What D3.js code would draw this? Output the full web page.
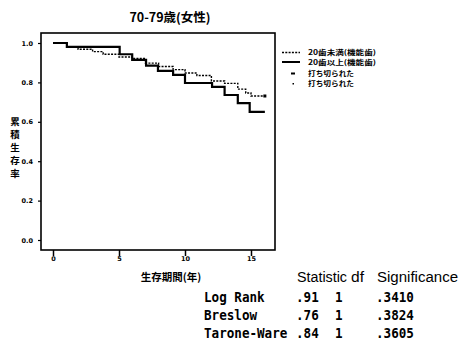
<!DOCTYPE html>
<html><head><meta charset="utf-8">
<script src="https://cdn.jsdelivr.net/npm/d3@7"></script>
<style>body{margin:0;background:#fff}</style>
</head><body><svg id="c" width="465" height="342"></svg>
<script>
const title = "70-79歳(女性)";
const yTitle = "累積生存率";
const xTitle = "生存期間(年)";
const xTicks = [0, 5, 10, 15];
const yTicks = [0.0, 0.2, 0.4, 0.6, 0.8, 1.0];
const seriesNames = ["20歯未満(機能歯)", "20歯以上(機能歯)", "打ち切られた", "打ち切られた"];
// group 1 (dotted)
const dotTimes = [0, 1.05, 1.9, 3.0, 3.8, 5.0, 6.0, 7.0, 8.0, 9.1, 10.0, 10.9, 12.0, 13.0, 14.0, 14.6, 15.0];
const dotSurv  = [1.0, 0.980, 0.968, 0.956, 0.943, 0.929, 0.921, 0.898, 0.881, 0.865, 0.848, 0.835, 0.807, 0.795, 0.766, 0.746, 0.731];
const dotEnd = 16.05;
const dotCensor = [16.05];
// group 2 (solid)
const solTimes = [0, 1.05, 5.05, 6.0, 7.05, 7.95, 9.1, 10.0, 12.05, 13.0, 14.0, 14.9];
const solSurv  = [1.0, 0.980, 0.943, 0.914, 0.885, 0.859, 0.838, 0.797, 0.777, 0.736, 0.695, 0.650];
const solEnd = 16.05;
// test table
const statHeader = ["Statistic", "df", "Significance"];
const testNames = ["Log Rank", "Breslow", "Tarone-Ware"];
const testStats = [".91", ".76", ".84"];
const testDf = ["1", "1", "1"];
const testSig = [".3410", ".3824", ".3605"];

const svg = d3.select("#c");
const x = d3.scaleLinear().domain([0, 15]).range([53, 251]);
const y = d3.scaleLinear().domain([0, 1]).range([240, 43]);
const frame = {l: 41, r: 275, t: 33, b: 250};
const cjk = "'Noto Sans CJK JP', sans-serif";

svg.append("rect").attr("x", frame.l).attr("y", frame.t)
  .attr("width", frame.r - frame.l).attr("height", frame.b - frame.t)
  .attr("fill", "none").attr("stroke", "#000").attr("stroke-width", 1.6);

// axes
const yAx = svg.append("g").attr("transform", `translate(${frame.l},0)`)
  .call(d3.axisLeft(y).tickValues(yTicks).tickFormat(d3.format(".1f")).tickSize(3));
yAx.select(".domain").remove();
yAx.selectAll("text").attr("font-size", 6.5).attr("font-weight", "bold")
  .attr("font-family", "'DejaVu Sans', sans-serif").attr("dx", -2);
yAx.selectAll("line").attr("stroke-width", 1.2);
const xAx = svg.append("g").attr("transform", `translate(0,${frame.b})`)
  .call(d3.axisBottom(x).tickValues(xTicks).tickSize(6));
xAx.select(".domain").remove();
xAx.selectAll("text").attr("font-size", 6.5).attr("font-weight", "bold")
  .attr("font-family", "'DejaVu Sans', sans-serif").attr("dy", 2);
xAx.selectAll("line").attr("stroke-width", 1.5);

function stepPts(times, surv, end) {
  const pts = [];
  times.forEach((t, i) => {
    if (i > 0) pts.push([t, surv[i - 1]]);
    pts.push([t, surv[i]]);
  });
  pts.push([end, surv[surv.length - 1]]);
  return pts;
}
const line = d3.line().x(d => x(d[0])).y(d => y(d[1]));
svg.append("path").attr("d", line(stepPts(solTimes, solSurv, solEnd)))
  .attr("fill", "none").attr("stroke", "#000").attr("stroke-width", 2.2);
svg.append("path").attr("d", line(stepPts(dotTimes, dotSurv, dotEnd)))
  .attr("fill", "none").attr("stroke", "#000").attr("stroke-width", 1.4)
  .attr("stroke-dasharray", "2,1.3");
dotCensor.forEach(t => {
  svg.append("rect").attr("x", x(t) - 1.5).attr("y", y(dotSurv[dotSurv.length - 1]) - 1.5)
    .attr("width", 3).attr("height", 3).attr("fill", "#000");
});

// title
svg.append("text").attr("x", 170).attr("y", 22).attr("text-anchor", "middle")
  .attr("font-family", cjk).attr("font-weight", "bold").attr("font-size", 12.5).text(title);
// y title vertical
const yt = svg.append("g").attr("font-family", cjk).attr("font-weight", "bold").attr("font-size", 9.5)
  .attr("text-anchor", "middle");
Array.from(yTitle).forEach((ch, i) => {
  yt.append("text").attr("x", 15).attr("y", 125 + i * 13).text(ch);
});
svg.append("text").attr("x", 171).attr("y", 281).attr("text-anchor", "middle")
  .attr("font-family", cjk).attr("font-weight", "bold").attr("font-size", 10.5).text(xTitle);

// legend
const lg = svg.append("g");
lg.append("line").attr("x1", 282).attr("x2", 300).attr("y1", 52.5).attr("y2", 52.5)
  .attr("stroke", "#000").attr("stroke-width", 1.4).attr("stroke-dasharray", "2,1.3");
lg.append("line").attr("x1", 282).attr("x2", 300).attr("y1", 62).attr("y2", 62)
  .attr("stroke", "#000").attr("stroke-width", 2);
lg.append("rect").attr("x", 291).attr("y", 72.5).attr("width", 4).attr("height", 2).attr("fill", "#000");
lg.append("rect").attr("x", 292.5).attr("y", 83).attr("width", 1.5).attr("height", 1.5).attr("fill", "#000");
const legY = [55, 65, 76, 86];
seriesNames.forEach((n, i) => {
  lg.append("text").attr("x", 308).attr("y", legY[i]).attr("font-family", cjk)
    .attr("font-weight", "bold").attr("font-size", 6.9).attr("textLength", i < 2 ? 68 : 46)
    .attr("lengthAdjust", "spacingAndGlyphs").text(n);
});

// stats table
const tf = "'Liberation Sans', sans-serif";
const mono = "'DejaVu Sans Mono', monospace";
const hdrX = [297, 351, 377];
const hdrW = [50, 13, 81];
statHeader.forEach((h, i) => {
  svg.append("text").attr("x", hdrX[i]).attr("y", 282).attr("font-family", tf)
    .attr("font-size", 14).attr("textLength", hdrW[i]).attr("lengthAdjust", "spacingAndGlyphs").text(h);
});
const rowY = [302, 320, 338];
function cell(px, py, txt) {
  svg.append("g").attr("transform", `translate(${px},${py}) scale(1,1.18)`)
    .append("text").attr("font-family", mono).attr("font-weight", "bold")
    .attr("font-size", 12.6).text(txt);
}
testNames.forEach((n, i) => {
  cell(204, rowY[i], n);
  cell(296, rowY[i], testStats[i]);
  cell(335, rowY[i], testDf[i]);
  cell(376, rowY[i], testSig[i]);
});
</script></body></html>
